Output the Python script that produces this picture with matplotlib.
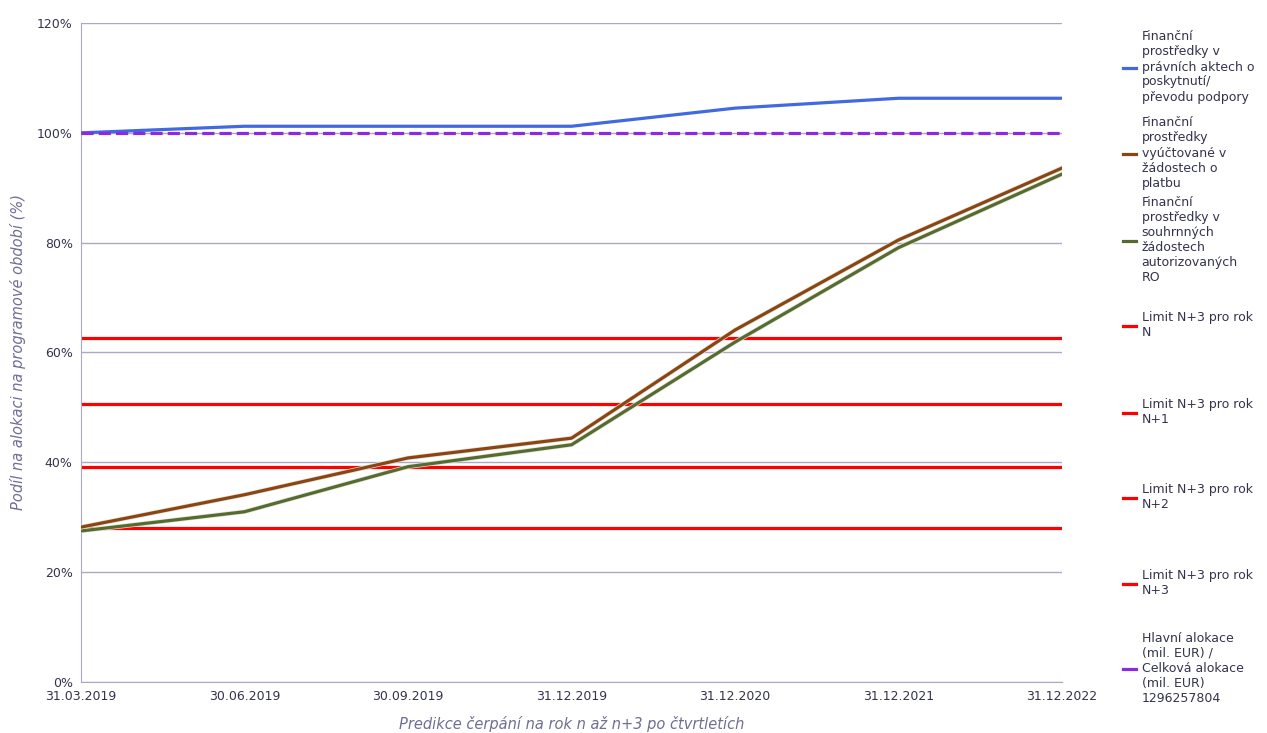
import matplotlib
matplotlib.use("Agg")
from matplotlib import pyplot as plt
import matplotlib.patheffects as pe

# x categories (quarters / years)
DATES = ["31.03.2019", "30.06.2019", "30.09.2019", "31.12.2019",
         "31.12.2020", "31.12.2021", "31.12.2022"]

# shares of the programme allocation (%)
pravni_akty = [100.0, 101.2, 101.2, 101.2, 104.5, 106.3, 106.3]
vyuctovane = [28.2, 34.1, 40.8, 44.4, 64.1, 80.5, 93.6]
souhrnne = [27.5, 31.0, 39.2, 43.2, 61.9, 79.1, 92.5]
alokace = [100.0] * 7

# N+3 limits (constant over all categories)
LIMITS = [62.7, 50.6, 39.2, 28.1]
LIMIT_NAMES = ["Limit N+3 pro rok\nN", "Limit N+3 pro rok\nN+1",
               "Limit N+3 pro rok\nN+2", "Limit N+3 pro rok\nN+3"]

TEXT_COLOR = "#33334d"
LABEL_COLOR = "#6e6e96"
GRID_COLOR = "#a9a9c6"

plt.rcParams["font.family"] = ["DejaVu Sans"]

fig = plt.figure(figsize=(12.67, 7.33), dpi=100)
ax = fig.add_axes([0.0639, 0.0696, 0.7744, 0.899])

x = list(range(len(DATES)))
halo = [pe.Stroke(linewidth=3.3, foreground="#e4e4d8"), pe.Normal()]

entries = []
for val, name in zip(LIMITS, LIMIT_NAMES):
    (ln,) = ax.plot(x, [val] * len(x), color="#ff0000", lw=2.3, zorder=2)
    entries.append((ln, name))

(l_blue,) = ax.plot(x, pravni_akty, color="#4169e1", lw=2.3, zorder=3)
(l_brown,) = ax.plot(x, vyuctovane, color="#8b4513", lw=2.3, zorder=4,
                     path_effects=halo)
(l_green,) = ax.plot(x, souhrnne, color="#556b2f", lw=2.3, zorder=3,
                     path_effects=halo)
(l_purple,) = ax.plot(x, alokace, color="#8a2be2", lw=2.3, zorder=5,
                      dashes=(3.8, 1.6))

entries = [
    (l_blue, "Finanční\nprostředky v\nprávních aktech o\nposkytnutí/\npřevodu podpory"),
    (l_brown, "Finanční\nprostředky\nvyúčtované v\nžádostech o\nplatbu"),
    (l_green, "Finanční\nprostředky v\nsouhrnných\nžádostech\nautorizovaných\nRO"),
] + entries + [
    (l_purple, "Hlavní alokace\n(mil. EUR) /\nCelková alokace\n(mil. EUR)\n1296257804"),
]

ax.set_xlim(0, len(DATES) - 1)
ax.set_ylim(0, 120)
ax.set_yticks(range(0, 121, 20))
ax.set_yticklabels([f"{v}%" for v in range(0, 121, 20)])
ax.set_xticks(x)
ax.set_xticklabels(DATES)
ax.tick_params(axis="both", length=0, colors=TEXT_COLOR, labelsize=9)
ax.tick_params(axis="y", pad=6)
ax.tick_params(axis="x", pad=6)

ax.grid(axis="y", color=GRID_COLOR, lw=1)
ax.set_axisbelow(True)
for side in ["top", "right"]:
    ax.spines[side].set_visible(False)
for side in ["left", "bottom"]:
    ax.spines[side].set_color(GRID_COLOR)

ax.set_xlabel("Predikce čerpání na rok n až n+3 po čtvrtletích",
              fontsize=10.5, style="italic", color=LABEL_COLOR, labelpad=9)
ax.set_ylabel("Podíl na alokaci na programové období (%)",
              fontsize=10.5, style="italic", color=LABEL_COLOR, labelpad=8)

# one legend box per entry so the centres are evenly spaced
centres = [67, 153, 240, 325, 412, 497, 583, 668]
for (handle, label), yc in zip(entries, centres):
    leg = fig.legend([handle], [label], loc="center left",
                     bbox_to_anchor=(1123 / 1267, 1 - yc / 733),
                     frameon=False, fontsize=9, handlelength=1.0,
                     handletextpad=0.5, borderaxespad=0, borderpad=0)
    for t in leg.get_texts():
        t.set_color(TEXT_COLOR)
        t.set_linespacing(1.2)
    for h in leg.legend_handles:
        h.set_linestyle("-")
        h.set_path_effects([])

fig.savefig("out.png", dpi=100)
